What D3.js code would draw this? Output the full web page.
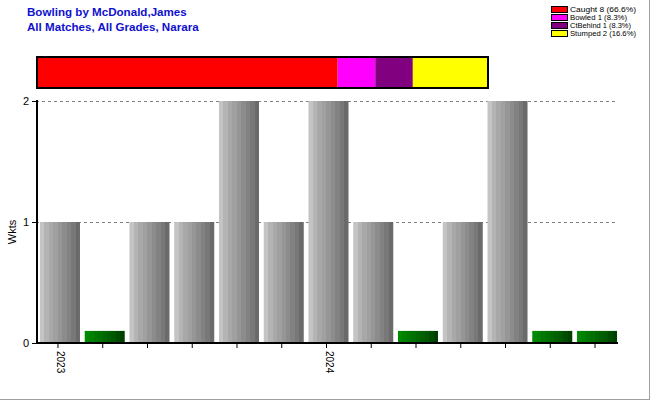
<!DOCTYPE html>
<html><head><meta charset="utf-8">
<script src="https://cdn.jsdelivr.net/npm/d3@7"></script>
<style>body{margin:0;background:#fff}svg{display:block;font-family:Arial,"Liberation Sans",sans-serif}</style>
</head><body><svg id="c" width="650" height="400"></svg>
<script>
const matches = ["m1","m2","m3","m4","m5","m6","m7","m8","m9","m10","m11","m12","m13"];
const tickLabels = ["2023","","","","","","2024","","","","","",""];
const wickets = [1,0,1,1,2,1,2,1,0,1,2,0,0];
const yTicks = [0,1,2];
const dismissals = ["Caught","Bowled","CtBehind","Stumped"];
const dismissalCounts = [8,1,1,2];
const dismissalPct = ["66.6%","8.3%","8.3%","16.6%"];
const dismissalColors = ["#ff0000","#ff00ff","#800080","#ffff00"];
const titleLines = ["Bowling by McDonald,James","All Matches, All Grades, Narara"];
const zeroMarker = 0.1;

const svg = d3.select("#c");
const defs = svg.append("defs");
function stripes(id, cols){
  const g = defs.append("linearGradient").attr("id",id).attr("x1","0").attr("x2","1").attr("y1","0").attr("y2","0");
  cols.forEach((c,i)=>{
    g.append("stop").attr("offset",i/cols.length).attr("stop-color",c);
    g.append("stop").attr("offset",(i+1)/cols.length).attr("stop-color",c);
  });
}
stripes("gray",["#c4c4c4","#b4b4b4","#a8a8a8","#a0a0a0","#969696","#8c8c8c","#828282","#787878","#6a6a6a"]);
stripes("green",["#008a00","#008000","#007800","#007000","#006800","#006000","#005800","#004c00","#004000"]);

// frame
svg.append("line").attr("x1",649.5).attr("x2",649.5).attr("y1",0).attr("y2",400).attr("stroke","#a0a0a0");
svg.append("line").attr("x1",0).attr("x2",650).attr("y1",399.5).attr("y2",399.5).attr("stroke","#a0a0a0");

// title
svg.selectAll("text.title").data(titleLines).join("text")
  .attr("x",27).attr("y",(d,i)=>16+i*15).attr("fill","#1010d0")
  .attr("font-size","11.6px").attr("font-weight","bold").text(d=>d);

// legend
const lg = svg.append("g");
dismissals.forEach((d,i)=>{
  lg.append("rect").attr("x",551.5).attr("y",6.5+i*8).attr("width",16).attr("height",6)
    .attr("fill",dismissalColors[i]).attr("stroke","#000").attr("stroke-width",1);
  lg.append("text").attr("x",570).attr("y",12.3+i*8).attr("font-size","7.5px").attr("fill","#000")
    .attr("textLength",[66,57,61,66][i]).attr("lengthAdjust","spacingAndGlyphs")
    .text(`${d} ${dismissalCounts[i]} (${dismissalPct[i]})`);
});

// stacked dismissal bar
const total = d3.sum(dismissalCounts);
const sx = d3.scaleLinear().domain([0,total]).range([37,488]);
let acc = 0;
const segs = dismissalCounts.map((v,i)=>{const s={x0:acc,x1:acc+v,c:dismissalColors[i]}; acc+=v; return s;});
svg.selectAll("rect.seg").data(segs).join("rect")
  .attr("x",d=>sx(d.x0)).attr("y",57).attr("width",d=>sx(d.x1)-sx(d.x0)).attr("height",31).attr("fill",d=>d.c);
svg.append("rect").attr("x",37).attr("y",57).attr("width",sx(total)-37).attr("height",31)
  .attr("fill","none").attr("stroke","#000").attr("stroke-width",2);

// main chart
const x = d3.scaleBand().domain(matches).range([37.6,619.4]).paddingInner(0.106).paddingOuter(0.053);
const y = d3.scaleLinear().domain([0,2]).range([343,101]);

// grid
svg.selectAll("line.grid").data(yTicks.filter(t=>t>0)).join("line")
  .attr("x1",36).attr("x2",617).attr("y1",d=>Math.round(y(d))+0.5).attr("y2",d=>Math.round(y(d))+0.5)
  .attr("stroke","#808080").attr("stroke-dasharray","3,3");

// bars
svg.selectAll("rect.bar").data(wickets).join("rect")
  .attr("x",(d,i)=>x(matches[i])).attr("width",x.bandwidth())
  .attr("y",d=>y(d===0?zeroMarker:d)).attr("height",d=>y(0)-y(d===0?zeroMarker:d))
  .attr("fill",d=>d===0?"url(#green)":"url(#gray)");

// y axis
const ya = svg.append("g").attr("transform","translate(36,0)")
  .call(d3.axisLeft(y).tickValues(yTicks).tickFormat(d3.format("d")).tickSize(4));
ya.select(".domain").remove();
ya.selectAll("text").attr("font-size","11px").attr("fill","#000").attr("font-family","Arial");
svg.append("line").attr("x1",37).attr("x2",37).attr("y1",100).attr("y2",344).attr("stroke","#000").attr("stroke-width",2);

// x axis
const xa = svg.append("g").attr("transform","translate(-2,343)")
  .call(d3.axisBottom(x).tickFormat((d,i)=>tickLabels[i]).tickSize(5));
xa.select(".domain").remove();
xa.selectAll("text").attr("font-size","10px").attr("fill","#000").attr("font-family","Arial")
  .attr("transform","rotate(90)").attr("text-anchor","start").attr("dy","0.35em").attr("x",8).attr("y",-3);
svg.append("line").attr("x1",36).attr("x2",618).attr("y1",343).attr("y2",343).attr("stroke","#000").attr("stroke-width",2);

// y label
svg.append("text").attr("transform","translate(16,232) rotate(-90)").attr("text-anchor","middle")
  .attr("font-size","11px").attr("fill","#000").text("Wkts");
</script></body></html>
